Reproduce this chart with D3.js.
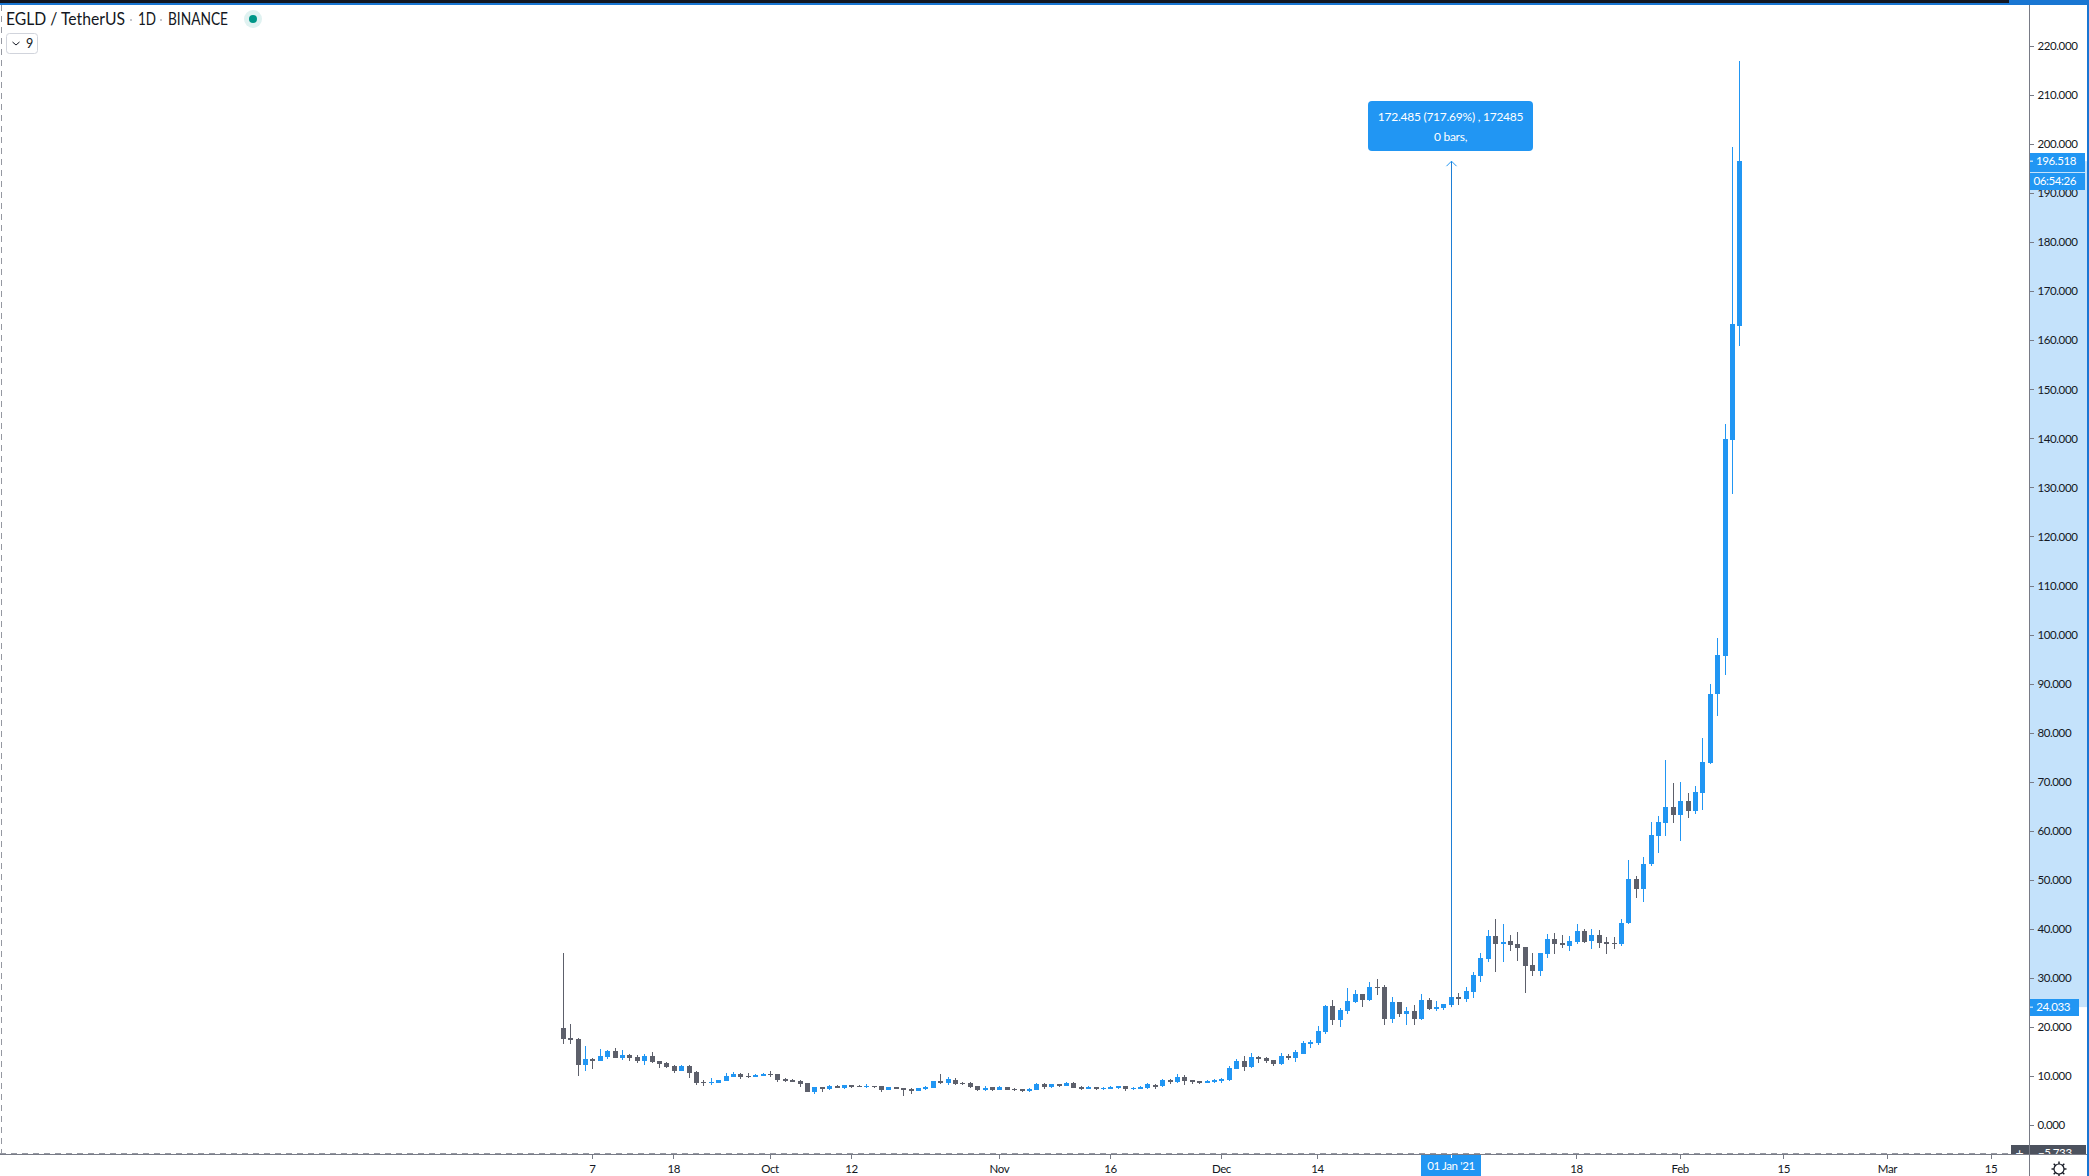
<!DOCTYPE html>
<html>
<head>
<meta charset="utf-8">
<title>EGLD / TetherUS</title>
<script src="https://cdn.jsdelivr.net/npm/d3@7"></script>
<style>
    html, body { margin: 0; padding: 0; background: #fff; overflow: hidden; }
    svg { display: block; }
    text { font-family: Lato, sans-serif; fill: #131722; }
    .axis text { font-size: 11.5px; letter-spacing: -0.4px; }
    .tick line { stroke: #787b86; shape-rendering: crispEdges; }
    .axis-label { font-size: 11.5px; letter-spacing: -0.4px; }
</style>
</head>
<body>
<div id="chart"></div>
<script>
// Daily candles, first one on the 3rd of September 2020
const firstDay = new Date(Date.UTC(2020, 8, 3));
const lastAxisDay = new Date(Date.UTC(2021, 2, 15));

const opens = [
    19.78, 17.74, 17.53, 12.23, 13.46, 13.05, 13.86, 15.09, 13.66, 14.27,
    13.86, 13.05, 14.07, 13.05, 12.64, 12.03, 11.01, 12.03, 10.81, 8.77,
    8.56, 8.56, 8.97, 9.79, 10.40, 9.99, 9.79, 9.99, 10.40, 10.40,
    9.38, 9.17, 8.97, 8.56, 6.73, 7.75, 7.34, 7.95, 7.54, 8.15,
    7.95, 7.75, 7.95, 7.95, 7.14, 7.75, 7.54, 7.34, 6.93, 7.34,
    7.54, 8.97, 8.56, 9.17, 8.56, 8.56, 7.95, 7.14, 7.75, 7.14,
    7.75, 7.34, 7.34, 6.93, 7.14, 8.36, 7.75, 8.36, 7.95, 8.56,
    7.75, 7.34, 7.75, 7.34, 7.34, 7.54, 7.95, 7.34, 7.34, 7.54,
    8.15, 7.95, 9.17, 8.77, 9.79, 9.17, 8.97, 8.56, 8.77, 8.97,
    9.17, 11.42, 13.05, 11.82, 13.86, 13.66, 13.25, 12.44, 14.07, 13.66,
    14.47, 16.51, 16.72, 18.96, 24.26, 21.41, 23.24, 25.08, 26.71, 25.48,
    28.13, 28.13, 21.61, 25.08, 22.63, 23.24, 21.61, 25.48, 23.65, 23.85,
    24.46, 26.10, 25.69, 27.11, 30.38, 33.84, 38.53, 36.90, 37.51, 36.90,
    36.29, 32.62, 31.40, 34.86, 37.92, 37.10, 36.49, 37.31, 39.55, 37.51,
    38.74, 37.31, 37.10, 36.90, 41.18, 50.15, 48.11, 53.21, 58.92, 61.57,
    64.83, 63.20, 66.05, 64.02, 67.69, 73.80, 87.87, 95.62, 139.65, 162.90
];
const highs = [
    35.07, 20.59, 17.74, 16.11, 13.66, 15.49, 15.29, 15.70, 15.29, 14.47,
    14.27, 14.47, 14.88, 13.05, 12.84, 12.23, 12.23, 12.23, 11.01, 9.17,
    9.58, 9.17, 10.60, 10.81, 10.60, 10.60, 10.40, 10.60, 11.01, 10.40,
    9.58, 9.38, 9.17, 8.56, 7.75, 7.75, 8.15, 8.15, 8.15, 8.15,
    8.15, 8.36, 7.95, 7.95, 7.75, 7.75, 7.54, 7.54, 7.54, 7.95,
    8.97, 10.40, 9.79, 9.58, 8.77, 8.77, 7.95, 7.95, 7.75, 7.95,
    7.75, 7.54, 7.34, 7.54, 8.56, 8.56, 8.36, 8.36, 8.77, 8.77,
    7.95, 7.95, 7.75, 7.75, 7.95, 7.95, 7.95, 7.75, 7.95, 8.56,
    8.36, 9.38, 9.38, 10.40, 10.19, 9.17, 8.97, 9.17, 9.38, 9.58,
    12.03, 13.46, 14.07, 14.68, 14.07, 13.86, 13.25, 14.68, 14.47, 15.29,
    17.13, 17.33, 20.18, 24.46, 25.48, 23.85, 27.93, 27.52, 26.71, 29.15,
    29.76, 28.54, 26.10, 25.08, 24.06, 24.46, 26.71, 25.89, 25.28, 24.67,
    26.10, 26.91, 28.13, 31.19, 35.07, 39.76, 42.00, 40.98, 38.74, 39.35,
    36.29, 35.07, 35.07, 38.94, 39.14, 38.74, 38.53, 40.98, 39.96, 39.96,
    39.76, 38.33, 38.33, 42.00, 54.03, 50.76, 54.64, 61.77, 63.00, 74.41,
    69.72, 69.93, 67.69, 69.11, 78.90, 89.91, 99.29, 142.91, 199.40, 216.90
];
const lows = [
    16.51, 16.51, 9.99, 11.01, 11.42, 13.05, 13.46, 13.66, 13.25, 13.05,
    12.64, 12.23, 12.64, 11.62, 11.62, 10.60, 11.01, 9.58, 8.15, 7.95,
    8.15, 8.56, 8.97, 9.79, 9.38, 9.58, 9.79, 9.99, 9.79, 8.77,
    8.77, 8.77, 7.75, 6.73, 6.32, 6.73, 7.14, 7.54, 7.34, 7.54,
    7.75, 7.54, 7.54, 6.73, 7.14, 7.34, 5.91, 6.32, 6.93, 7.14,
    7.54, 8.36, 8.15, 8.15, 8.15, 7.54, 6.93, 6.93, 6.93, 7.14,
    7.14, 6.93, 6.73, 6.73, 7.14, 7.34, 7.54, 7.75, 7.95, 7.54,
    7.14, 7.34, 7.14, 7.14, 7.34, 7.34, 6.93, 7.14, 7.34, 7.34,
    7.34, 7.75, 8.36, 8.56, 8.15, 8.36, 8.36, 8.56, 8.56, 8.56,
    8.97, 11.42, 11.01, 11.62, 12.64, 12.64, 12.03, 12.23, 13.25, 12.84,
    14.47, 15.70, 16.31, 18.55, 20.39, 19.98, 22.63, 24.87, 24.06, 25.28,
    26.50, 20.39, 20.79, 22.02, 20.39, 20.39, 21.41, 23.45, 23.24, 23.45,
    24.06, 24.46, 25.08, 25.89, 29.15, 33.23, 31.19, 33.23, 35.47, 33.44,
    26.91, 30.38, 30.38, 34.05, 34.86, 36.09, 35.47, 36.90, 37.10, 35.88,
    36.09, 34.86, 35.88, 36.49, 40.98, 46.28, 45.46, 52.80, 55.45, 58.92,
    61.57, 57.90, 62.59, 63.40, 64.22, 73.60, 83.38, 91.74, 128.64, 158.81
];
const closes = [
    17.53, 17.33, 12.23, 13.46, 13.05, 14.07, 15.09, 13.66, 14.27, 13.66,
    13.05, 14.07, 12.84, 12.44, 11.82, 11.01, 12.03, 10.60, 8.56, 8.56,
    8.77, 9.17, 9.99, 10.40, 9.79, 9.79, 10.19, 10.40, 10.19, 9.17,
    8.97, 8.77, 8.36, 6.73, 7.75, 7.34, 7.95, 7.54, 8.15, 7.75,
    7.75, 7.95, 7.75, 7.14, 7.75, 7.34, 7.14, 6.93, 7.54, 7.75,
    8.97, 8.56, 9.38, 8.36, 8.36, 7.75, 7.14, 7.54, 7.14, 7.75,
    7.14, 7.14, 6.93, 7.34, 8.36, 7.75, 8.36, 7.95, 8.56, 7.54,
    7.34, 7.75, 7.34, 7.54, 7.75, 7.95, 7.34, 7.54, 7.75, 8.36,
    7.75, 9.17, 8.77, 9.79, 8.97, 8.77, 8.56, 8.97, 9.17, 9.38,
    11.62, 13.05, 11.82, 13.86, 13.46, 13.05, 12.44, 14.07, 13.66, 14.88,
    16.72, 16.92, 19.16, 24.26, 21.41, 23.45, 25.28, 26.71, 25.48, 28.13,
    27.93, 21.61, 25.08, 22.63, 23.24, 21.61, 25.48, 23.65, 24.06, 24.67,
    26.10, 25.69, 27.32, 30.58, 34.05, 38.53, 36.90, 37.31, 36.70, 36.09,
    32.42, 31.40, 35.07, 37.92, 36.90, 36.70, 37.51, 39.55, 37.31, 38.74,
    37.10, 36.90, 36.90, 41.18, 50.15, 48.11, 53.21, 59.12, 61.77, 64.83,
    63.20, 66.05, 64.02, 67.89, 74.00, 87.87, 95.82, 139.85, 163.30, 196.518
];

// Price axis ticks
const priceTicks = d3.range(0, 221, 10);

// Time axis ticks and their labels
const timeTickDates = [
    [2020, 8, 7], [2020, 8, 18], [2020, 9, 1], [2020, 9, 12], [2020, 10, 1], [2020, 10, 16],
    [2020, 11, 1], [2020, 11, 14], [2021, 0, 18], [2021, 1, 1], [2021, 1, 15], [2021, 2, 1], [2021, 2, 15]
];
const timeTickLabels = ["7", "18", "Oct", "12", "Nov", "16", "Dec", "14", "18", "Feb", "15", "Mar", "15"];

// Values of the measure tool and the price labels
const measureDate = new Date(Date.UTC(2021, 0, 1));
const measureFrom = 24.033;
const measureTo = 196.518;
const measureLines = ["172.485 (717.69%) , 172485", "0 bars,"];
const lastPriceLabel = "196.518";
const countdownLabel = "06:54:26";
const measureDateLabel = "01 Jan '21";
const crosshairPrice = -5.733;

function createCandleChart() {
    const width = 2089;
    const height = 1176;
    const axisX = 2029;   // left edge of the price axis
    const axisY = 1154;   // top edge of the time axis
    const rightEdge = 2087;

    const blue = "#2196f3";
    const grey = "#5d606b";
    const axisGrey = "#787b86";

    const candles = opens.map((o, i) => ({
        date: d3.utcDay.offset(firstDay, i),
        open: o,
        high: highs[i],
        low: lows[i],
        close: closes[i]
    }));

    const svg = d3.select("#chart")
        .append("svg")
        .attr("width", width)
        .attr("height", height);

    // Define x scale (days)
    const xScale = d3.scaleUtc()
        .domain([firstDay, lastAxisDay])
        .range([563.3, 1991.5]);

    // Define y scale (price)
    const yScale = d3.scaleLinear()
        .domain([0, 220])
        .range([1125, 46]);

    // Candles: wick first, then the body
    const candle = svg.append("g")
        .attr("shape-rendering", "crispEdges")
        .selectAll("g")
        .data(candles)
        .join("g")
        .attr("fill", d => d.close >= d.open ? blue : grey);

    candle.append("rect")
        .attr("x", d => Math.floor(xScale(d.date)))
        .attr("y", d => Math.round(yScale(d.high)))
        .attr("width", 1)
        .attr("height", d => Math.max(1, Math.round(yScale(d.low)) - Math.round(yScale(d.high))));

    candle.append("rect")
        .attr("x", d => Math.floor(xScale(d.date)) - 2)
        .attr("y", d => Math.round(yScale(Math.max(d.open, d.close))))
        .attr("width", 5)
        .attr("height", d => Math.max(1, Math.round(yScale(Math.min(d.open, d.close))) - Math.round(yScale(Math.max(d.open, d.close)))));

    // Measure arrow
    const measureX = Math.floor(xScale(measureDate)) + 0.5;
    const measureTop = yScale(measureTo);
    svg.append("line")
        .attr("x1", measureX)
        .attr("x2", measureX)
        .attr("y1", yScale(measureFrom))
        .attr("y2", measureTop)
        .attr("stroke", "#1e7fd6")
        .attr("stroke-width", 1);

    svg.append("path")
        .attr("d", `M${measureX - 5},${measureTop + 5} L${measureX},${measureTop} L${measureX + 5},${measureTop + 5}`)
        .attr("fill", "none")
        .attr("stroke", blue)
        .attr("stroke-width", 1);

    // Measure label
    svg.append("rect")
        .attr("x", 1368)
        .attr("y", 101)
        .attr("width", 165)
        .attr("height", 50)
        .attr("rx", 4)
        .attr("fill", blue);

    svg.selectAll(".measure-text")
        .data(measureLines)
        .join("text")
        .attr("class", "measure-text")
        .attr("x", 1450.5)
        .attr("y", (d, i) => 121 + i * 20)
        .attr("text-anchor", "middle")
        .style("font-size", "12px")
        .style("letter-spacing", "-0.25px")
        .style("fill", "#fff")
        .text(d => d);

    // Crosshair lines
    svg.append("line")
        .attr("x1", 0)
        .attr("x2", axisX)
        .attr("y1", axisY - 0.5)
        .attr("y2", axisY - 0.5)
        .attr("stroke", "#9598a1")
        .attr("stroke-dasharray", "6,5");

    svg.append("line")
        .attr("x1", 1.5)
        .attr("x2", 1.5)
        .attr("y1", 5)
        .attr("y2", axisY)
        .attr("stroke", "#9598a1")
        .attr("stroke-dasharray", "6,5");

    // Highlighted band on the price axis
    svg.append("rect")
        .attr("x", axisX)
        .attr("y", yScale(measureTo))
        .attr("width", rightEdge - axisX)
        .attr("height", yScale(measureFrom) - yScale(measureTo))
        .attr("fill", "#c4e2fb");

    // Add price axis
    const priceAxis = svg.append("g")
        .attr("class", "axis price-axis")
        .attr("transform", `translate(${axisX + 0.5}, 0)`)
        .call(d3.axisRight(yScale)
            .tickValues(priceTicks)
            .tickFormat(d3.format(".3f"))
            .tickSize(4)
            .tickPadding(4));
    priceAxis.select(".domain").remove();

    // Price labels on the axis
    const labels = [
        { y: 153, h: 19, w: 56, textY: 165, textX: 2076, text: lastPriceLabel },
        { y: 173, h: 17, w: 56, textY: 185, textX: 2076, text: countdownLabel },
        { y: 999, h: 17, w: 50, textY: 1011, textX: 2070, text: d3.format(".3f")(measureFrom) }
    ];
    labels.forEach(l => {
        svg.append("rect")
            .attr("x", axisX)
            .attr("y", l.y)
            .attr("width", l.w)
            .attr("height", l.h)
            .attr("fill", blue);
        svg.append("text")
            .attr("class", "axis-label")
            .attr("x", l.textX)
            .attr("y", l.textY)
            .attr("text-anchor", "end")
            .style("fill", "#fff")
            .text(l.text);
    });
    svg.append("line")
        .attr("x1", axisX)
        .attr("x2", axisX + 4)
        .attr("y1", yScale(measureTo))
        .attr("y2", yScale(measureTo))
        .attr("stroke", "#fff");
    svg.append("line")
        .attr("x1", axisX)
        .attr("x2", axisX + 4)
        .attr("y1", yScale(measureFrom))
        .attr("y2", yScale(measureFrom))
        .attr("stroke", "#fff");

    // Crosshair price label, cut off by the time axis
    svg.append("rect")
        .attr("x", 2011)
        .attr("y", 1145)
        .attr("width", 17)
        .attr("height", axisY - 1145)
        .attr("fill", "#4c525e");
    svg.append("rect")
        .attr("x", axisX - 1)
        .attr("y", 1145)
        .attr("width", 58)
        .attr("height", axisY - 1145)
        .attr("fill", "#4c525e");
    svg.append("text")
        .attr("x", 2019.5)
        .attr("y", 1158)
        .attr("text-anchor", "middle")
        .style("font-size", "14px")
        .style("fill", "#fff")
        .text("+");
    svg.append("text")
        .attr("class", "axis-label")
        .attr("x", axisX + 9)
        .attr("y", 1157)
        .style("fill", "#fff")
        .text(d3.format(".3f")(crosshairPrice));

    // Time axis strip
    svg.append("rect")
        .attr("x", 0)
        .attr("y", axisY)
        .attr("width", rightEdge)
        .attr("height", height - axisY)
        .attr("fill", "#fff");

    // Add time axis
    const tickDates = timeTickDates.map(d => new Date(Date.UTC(d[0], d[1], d[2])));
    const timeAxis = svg.append("g")
        .attr("class", "axis time-axis")
        .attr("transform", `translate(-0.5, ${axisY + 0.5})`)
        .call(d3.axisBottom(xScale)
            .tickValues(tickDates)
            .tickFormat((d, i) => timeTickLabels[i])
            .tickSize(4)
            .tickPadding(6)
            .offset(0));
    timeAxis.select(".domain").remove();

    // Measure date on the time axis
    svg.append("rect")
        .attr("x", 1421)
        .attr("y", axisY)
        .attr("width", 60)
        .attr("height", height - axisY)
        .attr("fill", blue);
    svg.append("line")
        .attr("x1", measureX)
        .attr("x2", measureX)
        .attr("y1", axisY)
        .attr("y2", axisY + 4)
        .attr("stroke", "#fff");
    svg.append("text")
        .attr("class", "axis-label")
        .attr("x", 1451)
        .attr("y", axisY + 16)
        .attr("text-anchor", "middle")
        .style("fill", "#fff")
        .text(measureDateLabel);

    // Axis lines
    svg.append("line")
        .attr("x1", 0)
        .attr("x2", rightEdge)
        .attr("y1", axisY + 0.5)
        .attr("y2", axisY + 0.5)
        .attr("stroke", axisGrey);
    svg.append("line")
        .attr("x1", axisX + 0.5)
        .attr("x2", axisX + 0.5)
        .attr("y1", 5)
        .attr("y2", height)
        .attr("stroke", axisGrey);

    // Window edges
    svg.append("rect").attr("x", 0).attr("y", 0).attr("width", width).attr("height", 3).attr("fill", "#131722");
    svg.append("rect").attr("x", 2009).attr("y", 0).attr("width", 80).attr("height", 3).attr("fill", "#1976d2");
    svg.append("rect").attr("x", 0).attr("y", 3).attr("width", width).attr("height", 2).attr("fill", "#1976d2");
    svg.append("rect").attr("x", rightEdge).attr("y", 3).attr("width", 2).attr("height", height - 3).attr("fill", "#1976d2");

    // Add chart title, each piece fitted to the width it has in the header
    const titleParts = [
        { x: 6, len: 119, text: "EGLD / TetherUS" },
        { x: 138, len: 18, text: "1D" },
        { x: 168, len: 60, text: "BINANCE" }
    ];
    titleParts.forEach(t => {
        svg.append("text")
            .attr("x", t.x)
            .attr("y", 25)
            .attr("textLength", t.len)
            .attr("lengthAdjust", "spacingAndGlyphs")
            .style("font-size", "16.5px")
            .text(t.text);
    });
    svg.selectAll(".title-dot")
        .data([131, 161])
        .join("circle")
        .attr("class", "title-dot")
        .attr("cx", d => d)
        .attr("cy", 20)
        .attr("r", 1)
        .attr("fill", "#b2b5be");

    // Market status dot
    svg.append("circle").attr("cx", 253).attr("cy", 19).attr("r", 9).attr("fill", "#e0f2f1");
    svg.append("circle").attr("cx", 253).attr("cy", 19).attr("r", 4).attr("fill", "#009688");

    // Collapsed indicators button
    svg.append("rect")
        .attr("x", 6.5)
        .attr("y", 33.5)
        .attr("width", 31)
        .attr("height", 20)
        .attr("rx", 3)
        .attr("fill", "#fff")
        .attr("stroke", "#d1d4dc");
    svg.append("path")
        .attr("d", "M12.5,42 L16,45 L19.5,42")
        .attr("fill", "none")
        .attr("stroke", "#131722");
    svg.append("text")
        .attr("x", 26)
        .attr("y", 48)
        .style("font-size", "12.5px")
        .text("9");

    // Settings gear in the corner
    const gear = svg.append("g")
        .attr("transform", "translate(2059, 1169)");
    gear.append("circle")
        .attr("r", 5)
        .attr("fill", "none")
        .attr("stroke", "#131722")
        .attr("stroke-width", 1.2);
    gear.selectAll("line")
        .data(d3.range(0, 360, 45))
        .join("line")
        .attr("x1", 5)
        .attr("x2", 7.5)
        .attr("transform", d => `rotate(${d})`)
        .attr("stroke", "#131722")
        .attr("stroke-width", 1.4);
}

createCandleChart();
</script>
</body>
</html>
